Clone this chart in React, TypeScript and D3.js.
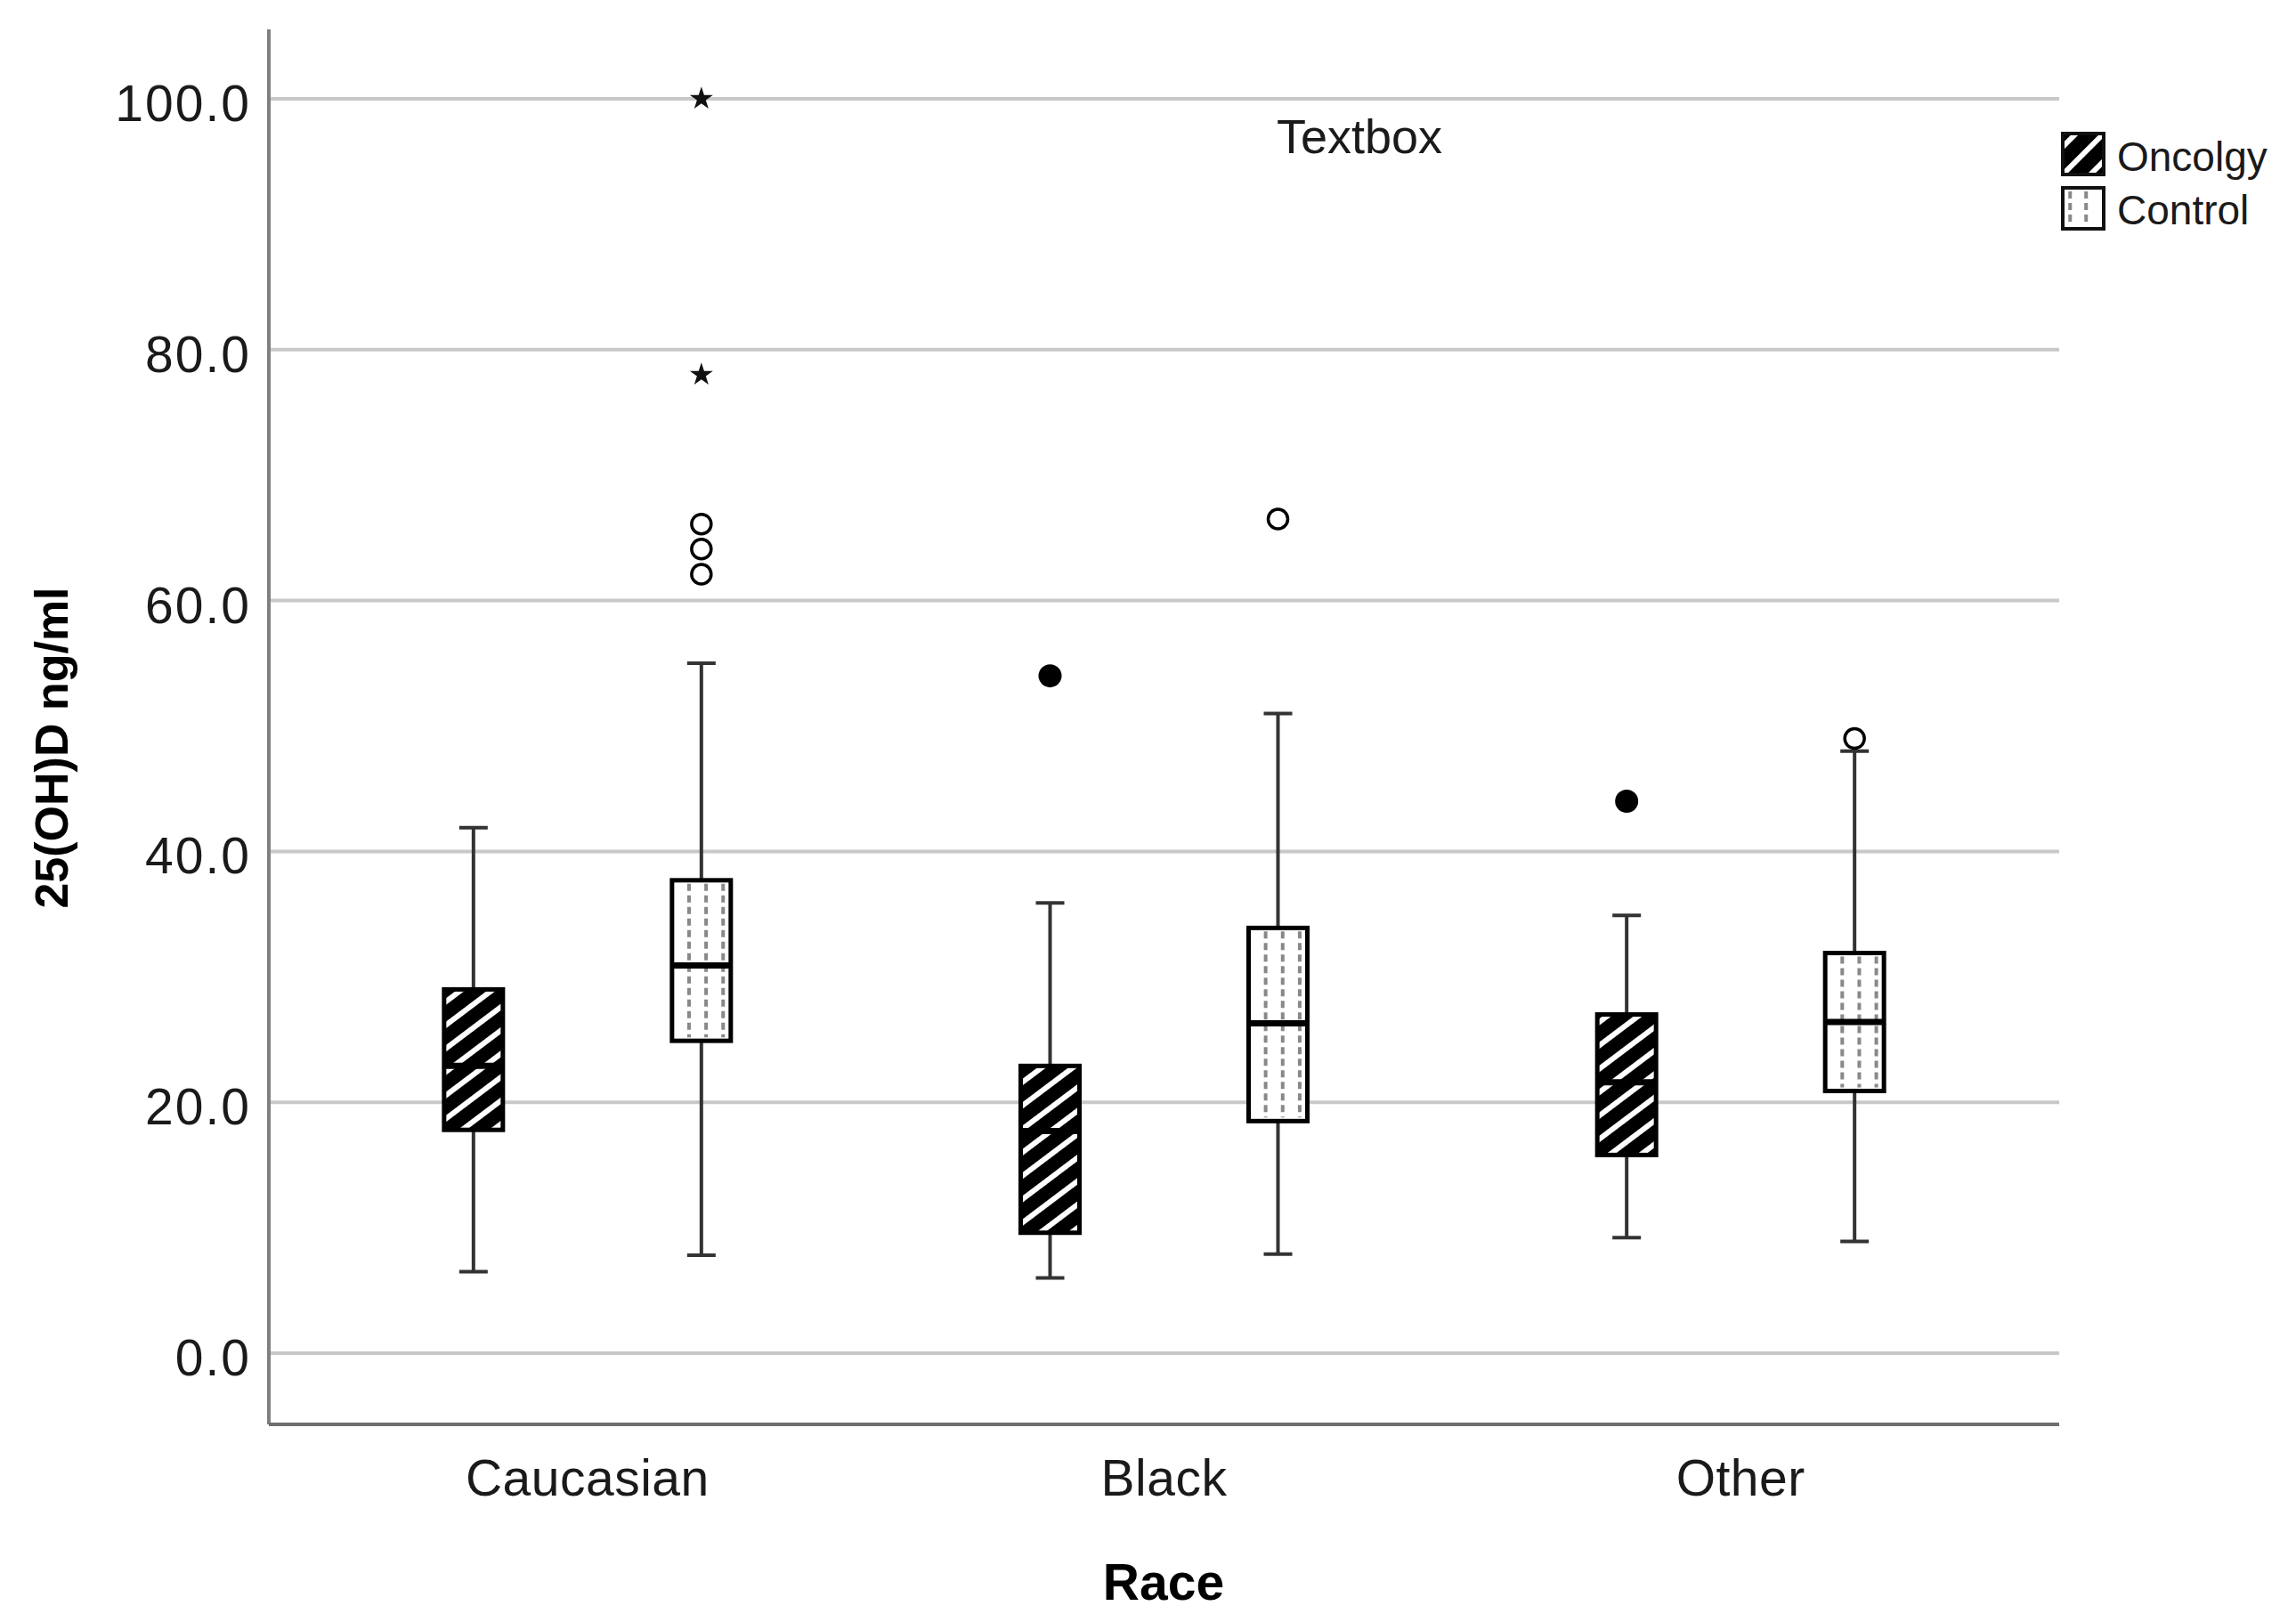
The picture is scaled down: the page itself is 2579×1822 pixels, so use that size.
import React from 'react';
import * as d3 from 'd3';

// five-number summaries: min whisker, Q1, median, Q3, max whisker
const races = ['Caucasian', 'Black', 'Other'];
const groups = ['Oncolgy', 'Control'];
const oncologyBoxes = [
  [6.5, 17.8, 22.9, 29.0, 41.9],
  [6.0, 9.6, 17.7, 22.9, 35.9],
  [9.2, 15.8, 21.6, 27.0, 34.9],
];
const controlBoxes = [
  [7.8, 24.9, 30.9, 37.7, 55.0],
  [7.9, 18.5, 26.3, 33.9, 51.0],
  [8.9, 20.9, 26.4, 31.9, 48.0],
];
const oncologyOutliers = [[], [54.0], [44.0]];
const controlOutliers = [[66.1, 64.1, 62.1], [66.5], [49.0]];
const controlExtremes = [[78.0, 100.0], [], []];
const yTicks = [0, 20, 40, 60, 80, 100];

const W = 2579;
const H = 1822;
const FONT = '"Liberation Sans", Arial, sans-serif';

const axisLeft = 302;
const axisRight = 2313;
const axisTop = 33;
const axisBottom = 1600;

export default function App() {
  const x = d3.scaleBand().domain(races).range([axisLeft + 34, axisRight - 34]);
  const offset = d3.scalePoint().domain(groups).range([-128, 128]);
  const y = d3.scaleLinear().domain([0, 100]).range([1520, 111]);
  const boxW = 66;
  const capW = 32;

  const rows = races.flatMap((race, i) => [
    { race, group: groups[0], stats: oncologyBoxes[i], outliers: oncologyOutliers[i], extremes: [] as number[] },
    { race, group: groups[1], stats: controlBoxes[i], outliers: controlOutliers[i], extremes: controlExtremes[i] },
  ]);

  const star = d3.symbol().type(d3.symbolStar).size(210)();

  return (
    <div style={{ position: 'absolute', left: 0, top: 0 }}>
      <svg width={W} height={H} style={{ display: 'block', background: '#fff' }} fontFamily={FONT}>
        <defs>
          <pattern id="hatch" patternUnits="userSpaceOnUse" width="40" height="21" patternTransform="rotate(-37)">
            <rect width="40" height="21" fill="#000" />
            <rect y="0" width="40" height="6" fill="#fff" />
          </pattern>
          <pattern id="hatchLegend" patternUnits="userSpaceOnUse" width="40" height="22"
            patternTransform="translate(2340,173) rotate(-45)">
            <rect width="40" height="22" fill="#000" />
            <rect y="-3" width="40" height="6" fill="#fff" />
            <rect y="19" width="40" height="6" fill="#fff" />
          </pattern>
        </defs>

        {/* gridlines */}
        {yTicks.map(t => (
          <line key={t} x1={axisLeft} x2={axisRight} y1={y(t)} y2={y(t)} stroke="#c8c8c8" strokeWidth={4} />
        ))}

        {/* axes */}
        <line x1={axisLeft} x2={axisLeft} y1={axisTop} y2={axisBottom} stroke="#808080" strokeWidth={4} />
        <line x1={axisLeft} x2={axisRight} y1={axisBottom} y2={axisBottom} stroke="#6e6e6e" strokeWidth={4} />

        {yTicks.map(t => (
          <text key={t} x={282} y={y(t) + 25} textAnchor="end" fontSize={57} letterSpacing={2} fill="#1a1a1a">
            {t.toFixed(1)}
          </text>
        ))}

        {races.map(r => (
          <text key={r} x={(x(r) ?? 0) + x.bandwidth() / 2} y={1680} textAnchor="middle" fontSize={57}
            letterSpacing={0.5} fill="#1a1a1a">
            {r}
          </text>
        ))}

        <text x={1307} y={1797} textAnchor="middle" fontSize={57} fontWeight="bold" fill="#000">Race</text>
        <text transform="translate(76,840) rotate(-90)" textAnchor="middle" fontSize={52} fontWeight="bold" fill="#000">
          25(OH)D ng/ml
        </text>
        <text x={1434} y={172} fontSize={54} fill="#1a1a1a">Textbox</text>

        {/* boxes */}
        {rows.map(d => {
          const cx = (x(d.race) ?? 0) + x.bandwidth() / 2 + (offset(d.group) ?? 0);
          const [lo, q1, med, q3, hi] = d.stats;
          const left = cx - boxW / 2;
          const onc = d.group === groups[0];
          return (
            <g key={d.race + d.group}>
              <line x1={cx} x2={cx} y1={y(hi)} y2={y(q3)} stroke="#333" strokeWidth={4} />
              <line x1={cx} x2={cx} y1={y(q1)} y2={y(lo)} stroke="#333" strokeWidth={4} />
              <line x1={cx - capW / 2} x2={cx + capW / 2} y1={y(hi)} y2={y(hi)} stroke="#333" strokeWidth={4} />
              <line x1={cx - capW / 2} x2={cx + capW / 2} y1={y(lo)} y2={y(lo)} stroke="#333" strokeWidth={4} />
              <rect x={left} y={y(q3)} width={boxW} height={y(q1) - y(q3)}
                fill={onc ? 'url(#hatch)' : '#fff'} stroke="#000" strokeWidth={5} />
              {!onc && [0.29, 0.58, 0.87].map(f => (
                <line key={f} x1={left + boxW * f} x2={left + boxW * f} y1={y(q3) + 4} y2={y(q1) - 4}
                  stroke="#888" strokeWidth={4} strokeDasharray="8 5" />
              ))}
              <line x1={left} x2={left + boxW} y1={y(med)} y2={y(med)} stroke="#000" strokeWidth={7} />
              {d.outliers.map((v, k) => (
                <circle key={k} cx={cx} cy={y(v)} r={onc ? 13 : 11}
                  fill={onc ? '#000' : '#fff'} stroke="#000" strokeWidth={onc ? 0 : 3.5} />
              ))}
              {d.extremes.map((v, k) => (
                <path key={k} d={star ?? ''} transform={`translate(${cx},${y(v)})`} fill="#111" />
              ))}
            </g>
          );
        })}

        {/* legend */}
        <rect x={2317} y={150} width={46} height={46} fill="url(#hatchLegend)" stroke="#111" strokeWidth={4} />
        <text x={2378} y={192} fontSize={46} fill="#1a1a1a">{groups[0]}</text>
        <rect x={2317} y={211} width={46} height={46} fill="#fff" stroke="#111" strokeWidth={4} />
        {[0.18, 0.57].map(f => (
          <line key={f} x1={2317 + 46 * f} x2={2317 + 46 * f} y1={215} y2={253}
            stroke="#888" strokeWidth={4} strokeDasharray="8 5" />
        ))}
        <text x={2378} y={252} fontSize={46} fill="#1a1a1a">{groups[1]}</text>
      </svg>
    </div>
  );
}
